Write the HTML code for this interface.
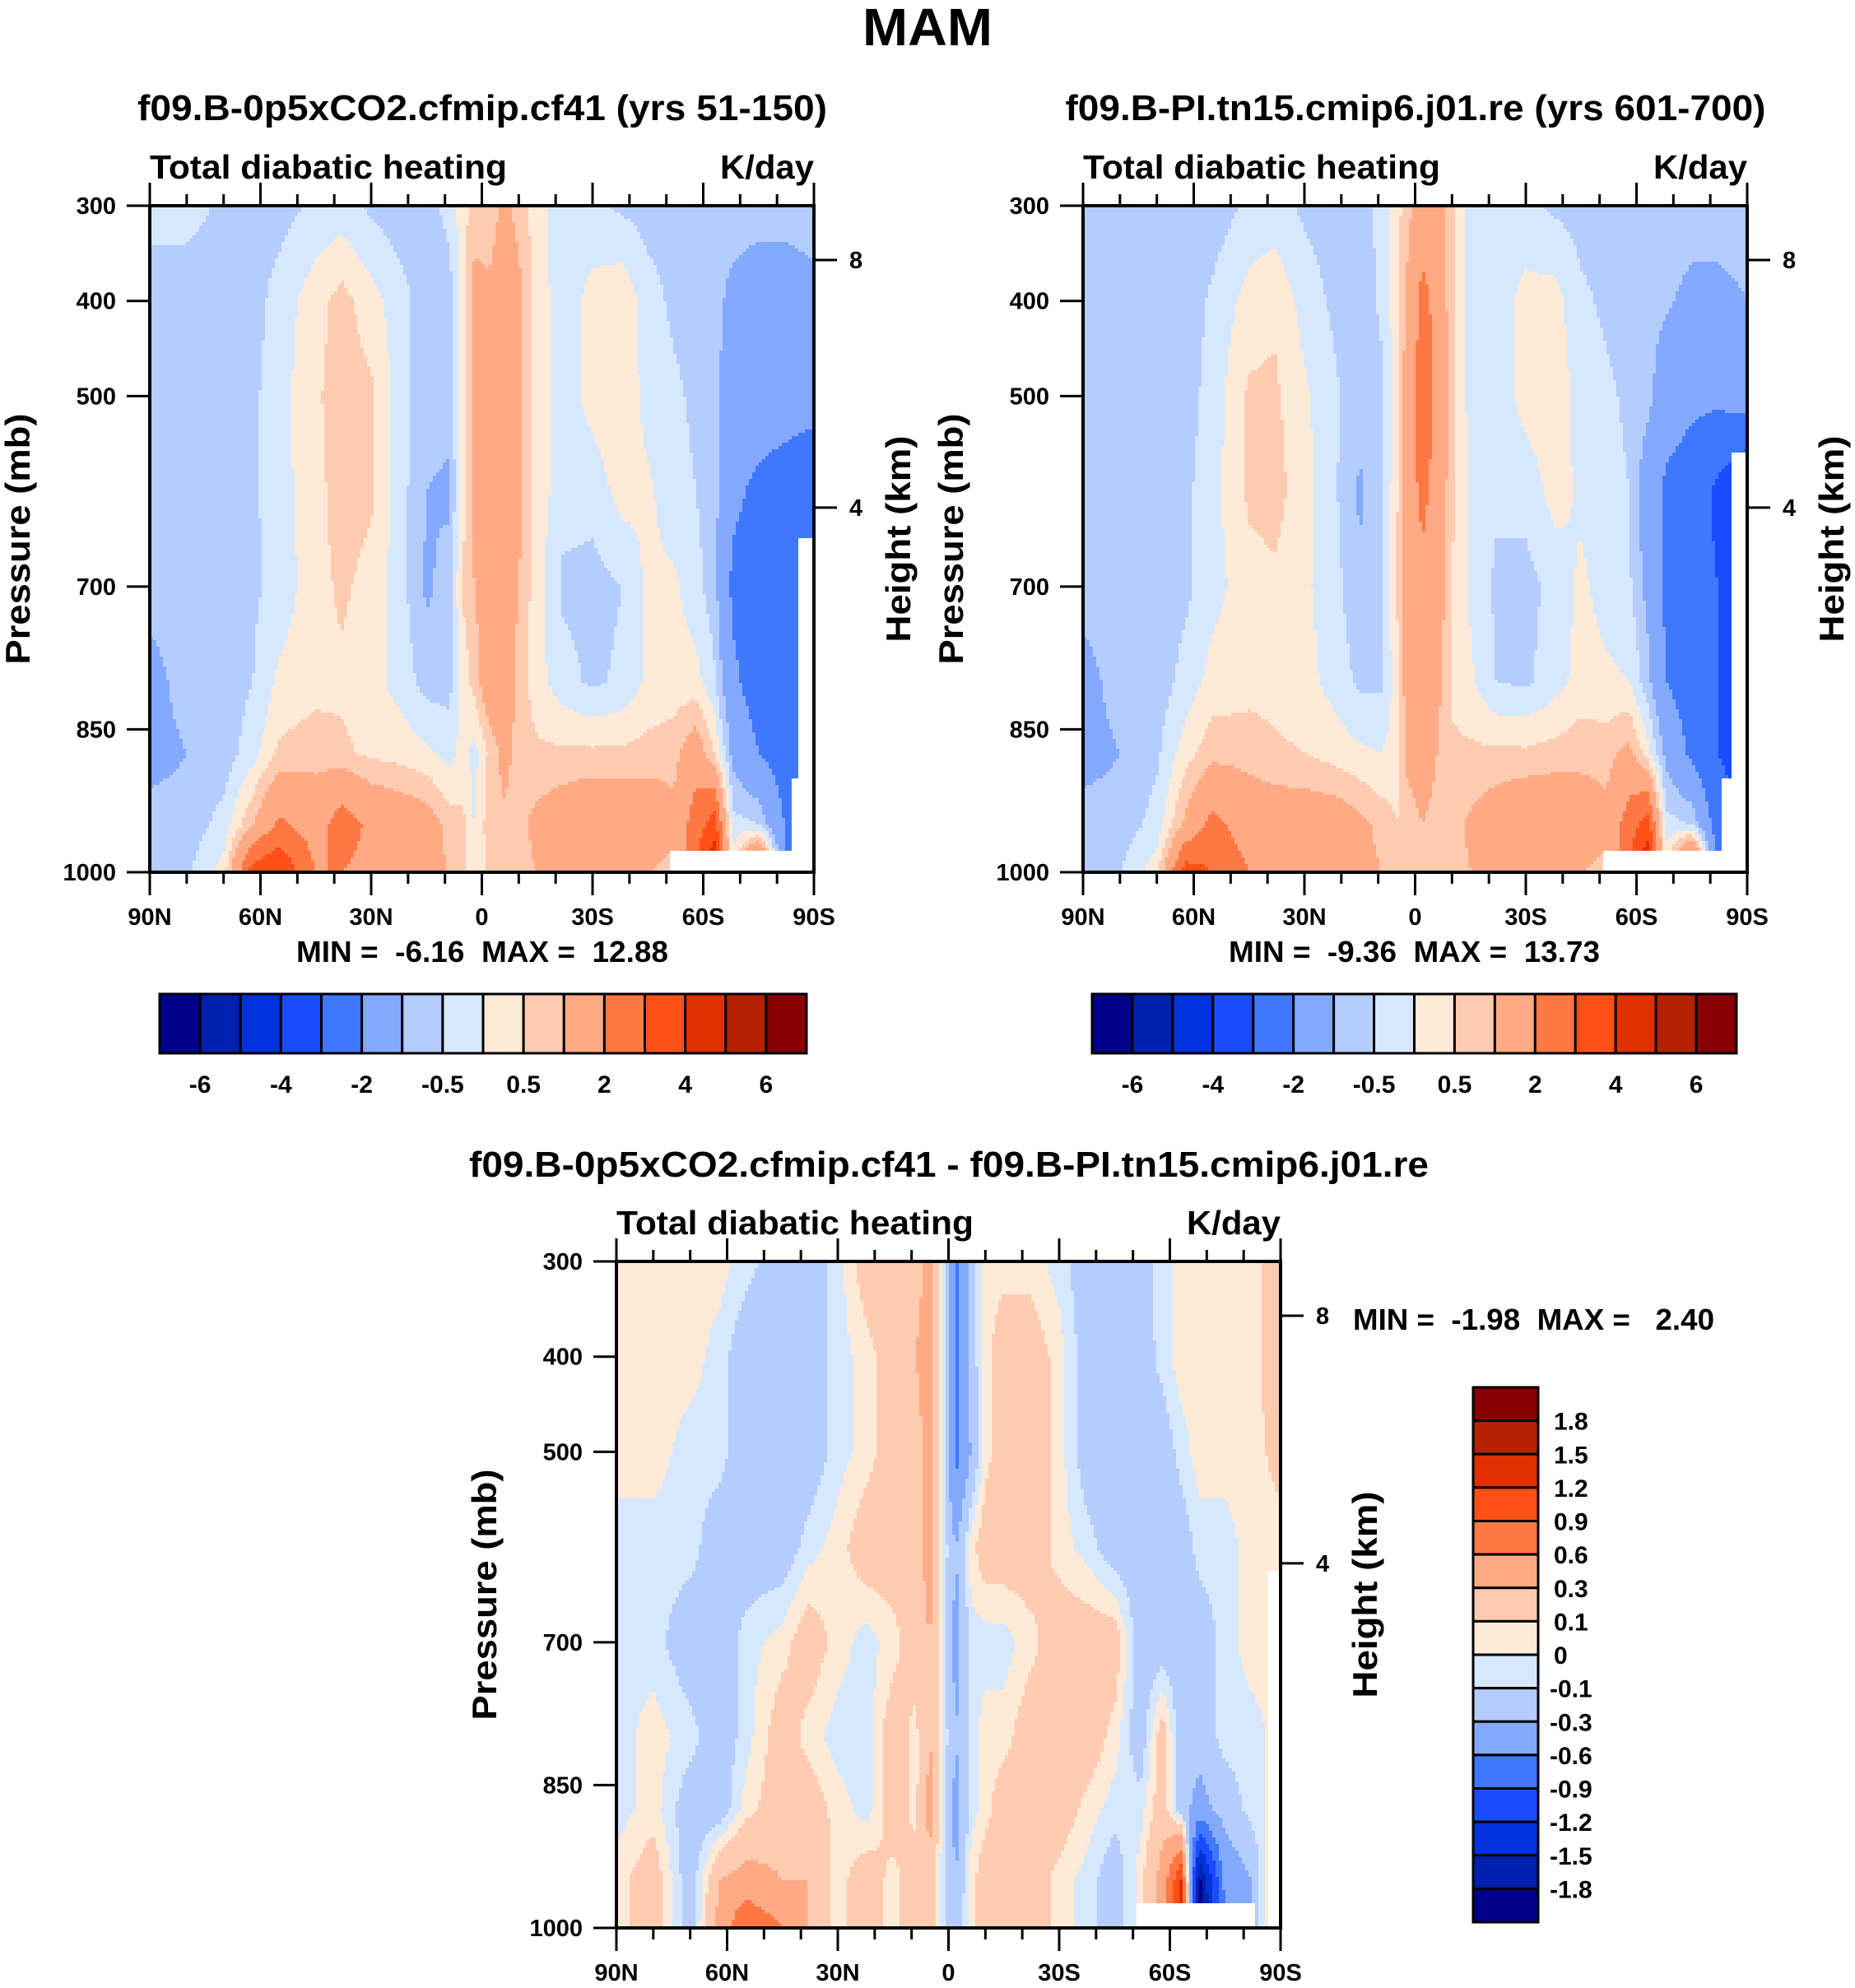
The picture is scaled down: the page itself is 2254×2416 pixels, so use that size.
<!DOCTYPE html>
<html><head><meta charset="utf-8"><title>MAM Total diabatic heating</title>
<style>
html,body{margin:0;padding:0;background:#fff;}
svg{display:block;font-family:"Liberation Sans",Arial,sans-serif;font-weight:bold;}
</style></head>
<body>
<svg id="fig" xmlns="http://www.w3.org/2000/svg" width="2254" height="2416" viewBox="0 0 2254 2416">
<rect width="2254" height="2416" fill="#fff"/>
<text x="1127" y="55" text-anchor="middle" font-size="64" textLength="158" lengthAdjust="spacingAndGlyphs">MAM</text>
<g id="layer"></g>
</svg>
<script>
// ---- data ----
const lats = [90,80,70,62,55,45,38,30,22,15,9,5,2,-2,-6,-10,-15,-22,-30,-38,-45,-52,-58,-63,-68,-75,-82,-90];
const levels = [300,400,500,600,700,800,875,950,1000];
const field1 = [
[-0.3,-0.3,-0.6,-0.7,-0.7,-0.4,-0.3,-0.6,-0.8,-0.8,-0.3,0.3,0.8,0.6,1.2,0.8,0.2,-0.3,-0.4,-0.6,-0.7,-0.7,-0.7,-0.7,-0.7,-0.7,-0.7,-0.7],
[-0.8,-0.8,-0.8,-0.7,-0.3,0.3,0.7,0.2,-0.3,-0.8,-0.8,0.2,1.2,1.2,1.5,1.2,0.3,-0.3,0.2,0.4,-0.3,-0.6,-0.7,-0.8,-1.2,-1.5,-1.5,-1.2],
[-0.8,-0.8,-0.8,-0.6,-0.2,0.4,0.8,0.6,-0.3,-0.8,-0.8,0.3,1.3,1.5,1.5,1.2,0.3,-0.3,0.2,0.4,-0.2,-0.4,-0.6,-0.8,-1.5,-1.5,-1.5,-1.5],
[-0.8,-0.8,-0.8,-0.6,-0.2,0.3,0.8,0.6,-0.3,-1,-1.1,0.3,1.2,1.5,1.6,1.2,0.3,-0.3,-0.3,0.2,0.1,-0.3,-0.5,-0.8,-1.8,-2.2,-2.5,-3],
[-0.8,-0.8,-0.8,-0.6,-0.3,0.3,0.6,0.3,-0.3,-1.1,-0.8,0.6,1.0,1.4,1.5,1.0,0.2,-0.6,-0.7,-0.5,0.1,0.1,-0.3,-0.8,-2.2,-2.5,-3,-3],
[-1.2,-0.8,-0.8,-0.5,0.1,0.3,0.4,0.2,-0.2,-0.7,-0.7,0.2,0.7,1.6,1.6,0.8,0.2,-0.3,-0.6,-0.4,0.1,0.2,0.2,-0.4,-1.8,-2.5,-2.8,-3],
[-1.2,-1,-0.8,-0.2,0.6,0.8,0.6,0.4,0.3,0.1,-0.2,0.2,-0.2,0.6,1.2,0.8,0.6,0.6,0.6,0.6,0.7,0.8,1.5,0.5,-1.2,-2,-2.5,-3],
[-0.8,-0.8,-0.3,1,2.2,1.5,2.5,1.8,1.6,1.4,0.8,0.6,0,0.8,0.9,0.8,1.2,1.5,1.8,1.8,1.6,1.2,2.5,3.5,-0.3,-0.5,-2,-3],
[-0.8,-0.6,0.2,3.5,4,2,2,1.7,1.5,1.3,1,0.6,0.2,0.6,0.8,0.8,1,1.5,1.8,1.5,1,0.8,3,5,0.3,4,-2,-3]];
const field2 = [
[-0.7,-0.8,-0.8,-0.8,-0.8,-0.4,-0.3,-0.6,-0.8,-0.8,-0.3,0.3,0.8,1.5,1.3,0.6,-0.2,-0.3,-0.4,-0.6,-0.7,-0.7,-0.7,-0.7,-0.7,-0.7,-0.7,-0.7],
[-0.8,-0.8,-0.8,-0.8,-0.4,0.2,0.4,-0.2,-0.6,-0.8,-0.4,0.3,1.2,2.3,1.7,0.6,-0.2,-0.3,0.2,0.2,-0.4,-0.6,-0.8,-0.8,-0.9,-1.2,-1.2,-1.0],
[-0.8,-0.8,-0.8,-0.7,-0.3,0.6,0.6,0.1,-0.4,-0.8,-0.6,0.3,1.5,2.5,1.8,0.7,-0.2,-0.3,0.2,0.3,-0.2,-0.4,-0.6,-0.8,-1.5,-1.8,-1.8,-1.5],
[-0.8,-0.8,-0.8,-0.6,-0.2,0.6,0.7,0.2,-0.4,-1.1,-0.6,0.4,1.6,2.2,1.7,0.6,-0.1,-0.4,-0.3,0.2,-0.1,-0.3,-0.5,-1.5,-2.2,-2.5,-3.2,-4.2],
[-0.8,-0.8,-0.8,-0.6,-0.2,0.3,0.4,0.1,-0.3,-0.9,-0.5,0.5,1.5,1.8,1.5,0.5,-0.1,-0.6,-0.7,-0.3,0.1,-0.2,-0.4,-1.2,-2.2,-2.5,-3,-3.5],
[-1.2,-0.8,-0.8,-0.3,0.2,0.3,0.3,0.2,-0.2,-0.6,-0.6,0.3,1.4,1.6,1.2,0.4,0.1,-0.5,-0.6,-0.2,0.2,0.1,0,-0.8,-2,-2.5,-3,-3.5],
[-1.2,-1,-0.6,0.3,0.8,0.8,0.6,0.5,0.3,0.1,0,0.3,1.2,1.4,1,0.6,0.6,0.6,0.6,0.7,0.8,0.8,1.2,0.2,-1.2,-2.2,-3,-3.5],
[-0.8,-0.8,-0.3,1.2,2.3,1.5,1.5,1.5,1.5,1.2,0.8,0.5,0.7,1.0,0.8,0.8,1.1,1.5,1.8,1.8,1.5,1.2,2.5,3.5,-0.3,-0.5,-2.5,-3],
[-0.8,-0.5,0.3,3.5,3,2,2,1.7,1.5,1.3,1,0.6,0.6,0.8,0.8,0.8,1,1.5,1.8,1.5,1,0.8,3,5,0.3,4.5,-2.5,-3]];
const field3 = [
[0.05,0.05,0.05,0.05,-0.05,-0.2,-0.2,-0.05,0.2,0.2,0.2,0.4,0.05,-0.7,-0.2,0.05,0.05,0.05,-0.05,-0.2,-0.2,-0.15,-0.05,0.05,0.05,0.05,0.05,0.2],
[0.05,0.05,0.05,-0.05,-0.2,-0.2,-0.2,-0.05,0.05,0.2,0.3,0.4,0.05,-0.7,-0.2,0.05,0.2,0.2,0.05,-0.2,-0.2,-0.2,-0.05,0.05,0.05,0.05,0.05,0.2],
[0.05,0.05,-0.05,-0.05,-0.2,-0.2,-0.2,-0.05,0.05,0.2,0.2,0.4,0.05,-0.7,-0.3,0.05,0.2,0.2,0.05,-0.2,-0.2,-0.2,-0.2,-0.05,0.05,0.05,0.05,0.15],
[-0.05,-0.05,-0.05,-0.2,-0.2,-0.2,-0.05,0.05,0.2,0.2,0.2,0.4,0.05,-0.3,0.05,0.2,0.2,0.2,0.05,-0.05,-0.2,-0.2,-0.2,-0.2,-0.05,-0.05,0.05,0.05],
[-0.05,-0.05,-0.2,-0.2,-0.05,0.05,0.2,0.05,-0.05,0.05,0.2,0.3,0.05,-0.4,-0.05,-0.05,-0.05,0.05,0.2,0.2,0.2,-0.2,-0.2,-0.2,-0.2,-0.05,0.05,0.05],
[-0.05,0.05,-0.05,-0.2,-0.05,0.2,0.05,-0.05,-0.05,0.2,0.05,0.3,0.05,-0.3,-0.05,0.05,0.05,0.2,0.2,0.2,0.05,-0.2,0.2,-0.2,-0.2,-0.05,-0.05,0.05],
[-0.05,0.05,-0.2,-0.2,0.05,0.2,0.2,0.05,-0.05,0.2,0.05,0.4,0.05,-0.4,-0.05,0.05,0.2,0.2,0.2,0.05,-0.05,-0.05,0.2,-0.2,-0.4,-0.2,-0.05,0.05],
[0.05,0.2,-0.2,0.3,0.4,0.3,0.3,0.05,0.2,0.05,0.2,0.2,-0.05,-0.3,0.05,0.2,0.2,0.2,0.05,-0.05,-0.2,0.05,0.4,1.2,-1.9,-0.5,-0.3,0.4],
[0.05,0.2,-0.2,0.4,0.9,0.6,0.3,0.05,0.2,0.05,0.2,0.2,-0.05,-0.2,0.05,0.2,0.2,0.2,0.05,-0.05,-0.2,0.05,0.4,1.5,-2,-0.6,-0.3,0.4]];
const levelsAbs = [-6,-5,-4,-3,-2,-1,-0.5,0,0.5,1,2,3,4,5,6];
const levelsDiff = [-1.8,-1.5,-1.2,-0.9,-0.6,-0.3,-0.1,0,0.1,0.3,0.6,0.9,1.2,1.5,1.8];
const labelsAbs = ["-6","-4","-2","-0.5","0.5","2","4","6"];
const labelsDiff = ["1.8","1.5","1.2","0.9","0.6","0.3","0.1","0","-0.1","-0.3","-0.6","-0.9","-1.2","-1.5","-1.8"];
const colors = ["#00008A","#0020B0","#0033DD","#1A4CFF","#4077FF","#83A9FF","#B4CCFF","#D6E8FF","#FFEAD8","#FFCBB0","#FFAA85","#FF7843","#FF5018","#E03000","#B52200","#880000"];
const pTicks = [300,400,500,700,850,1000];
const latTicks = [90,60,30,0,-30,-60,-90];
const latLabels = ["90N","60N","30N","0","30S","60S","90S"];
const hTicks = ["8","4"];
const hTickP = [357,617];
const minmax = ["MIN =  -6.16  MAX =  12.88","MIN =  -9.36  MAX =  13.73","MIN =  -1.98  MAX =   2.40"];

const NS="http://www.w3.org/2000/svg";
const layer=document.getElementById('layer');
function mk(tag,attrs,parent){const e=document.createElementNS(NS,tag);for(const k in attrs)e.setAttribute(k,attrs[k]);(parent||layer).appendChild(e);return e;}
function txt(s,attrs,parent){const e=mk('text',attrs,parent);e.textContent=s;return e;}

function interp(field,lat,p){
  let i=0;while(i<lats.length-2&&lat<lats[i+1])i++;
  let tx=(lats[i]-lat)/(lats[i]-lats[i+1]);tx=Math.max(0,Math.min(1,tx));
  let j=0;while(j<levels.length-2&&p>levels[j+1])j++;
  let ty=(p-levels[j])/(levels[j+1]-levels[j]);ty=Math.max(0,Math.min(1,ty));
  const a=field[j][i],b=field[j][i+1],c=field[j+1][i],d=field[j+1][i+1];
  return (a*(1-tx)+b*tx)*(1-ty)+(c*(1-tx)+d*tx)*ty;
}
function colorIdx(v,lv){let k=0;while(k<lv.length&&v>=lv[k])k++;return k;}

function panel(P){
  const g=mk('g',{});
  
  
  const X=lat=>P.x0+(90-lat)/180*(P.x1-P.x0);
  const Y=p=>P.y0+(p-300)/700*(P.y1-P.y0);
  const cg=mk('g',{},g);
  
  
  const step=4;
  for(let y=P.y0;y<P.y1;y+=step){
    const p=300+(y+step/2-P.y0)/(P.y1-P.y0)*700;
    let runStart=P.x0,runC=null;
    for(let x=P.x0;;x+=step){
      const end=x>=P.x1;
      let c=null;
      if(!end){
        const lat=90-(x+step/2-P.x0)/(P.x1-P.x0)*180;
        let miss=false;
        for(const m of P.mask){if(lat<=m[0]&&lat>=m[1]&&p>=m[2])miss=true;}
        c=miss?'#ffffff':colors[colorIdx(interp(P.field,lat,p),P.lv)];
      }
      if(c!==runC){
        if(runC!==null){
          const r=mk('rect',{x:runStart,y:y,width:Math.min(x,P.x1)-runStart+0.6,height:Math.min(step,P.y1-y)+0.6,fill:runC},cg);
          
          
        }
        runStart=x;runC=c;
      }
      if(end)break;
    }
  }
  const fr=mk('rect',{x:P.x0,y:P.y0,width:P.x1-P.x0,height:P.y1-P.y0,fill:'none',stroke:'#000','stroke-width':4},g);
  
  
  for(let lat=90;lat>=-90;lat-=10){
    const major=lat%30===0, L=major?28:14, x=X(lat);
    mk('line',{x1:x,x2:x,y1:P.y1,y2:P.y1+L,stroke:'#000','stroke-width':3},g);
    mk('line',{x1:x,x2:x,y1:P.y0,y2:P.y0-L,stroke:'#000','stroke-width':3},g);
  }
  latTicks.forEach((lat,i)=>{
    const t=txt(latLabels[i],{x:X(lat),y:P.y1+64,'text-anchor':'middle','font-size':29},g);
    
    
  });
  pTicks.forEach(p=>{
    mk('line',{x1:P.x0-28,x2:P.x0,y1:Y(p),y2:Y(p),stroke:'#000','stroke-width':3},g);
    const t=txt(String(p),{x:P.x0-41,y:Y(p)+10,'text-anchor':'end','font-size':29},g);
    
    
  });
  hTicks.forEach((h,i)=>{
    const y=Y(hTickP[i]);
    mk('line',{x1:P.x1,x2:P.x1+28,y1:y,y2:y,stroke:'#000','stroke-width':3},g);
    const t=txt(h,{x:P.x1+43,y:y+10,'font-size':29},g);
    
    
  });
  const cy=(P.y0+P.y1)/2;
  let t=txt('Pressure (mb)',{x:0,y:0,'text-anchor':'middle','font-size':42,textLength:305,lengthAdjust:'spacingAndGlyphs',transform:`translate(${P.x0-146},${cy}) rotate(-90)`},g);
  
  
  t=txt('Height (km)',{x:0,y:0,'text-anchor':'middle','font-size':42,textLength:251,lengthAdjust:'spacingAndGlyphs',transform:`translate(${P.x1+117},${cy}) rotate(-90)`},g);
  
  
  t=txt('Total diabatic heating',{x:P.x0,y:P.y0-33,'font-size':41,textLength:434,lengthAdjust:'spacingAndGlyphs'},g);
  
  
  t=txt('K/day',{x:P.x1,y:P.y0-33,'text-anchor':'end','font-size':41,textLength:114,lengthAdjust:'spacingAndGlyphs'},g);
  
  
  t=txt(P.title,{x:P.tx,y:P.ty,'text-anchor':'middle','font-size':44,textLength:P.tw,lengthAdjust:'spacingAndGlyphs'},g);
  
  
  t=txt(P.mm,{x:P.mx,y:P.my,'font-size':36,textLength:P.mw,lengthAdjust:'spacingAndGlyphs',style:'white-space:pre'},g);
  
  
}

panel({name:'panel-0p5xco2',x0:182,x1:989,y0:250,y1:1060,field:field1,lv:levelsAbs,
  mask:[[-51,-84,976],[-84,-86,900],[-86,-91,650]],
  title:'f09.B-0p5xCO2.cfmip.cf41 (yrs 51-150)',tx:586,ty:146,tw:838,mm:minmax[0],mx:360,my:1169,mw:452});
panel({name:'panel-pi',x0:1316,x1:2123,y0:250,y1:1060,field:field2,lv:levelsAbs,
  mask:[[-51,-83,976],[-83,-86,900],[-86,-91,560]],
  title:'f09.B-PI.tn15.cmip6.j01.re (yrs 601-700)',tx:1720,ty:146,tw:851,mm:minmax[1],mx:1493,my:1169,mw:451});
panel({name:'panel-difference',x0:749,x1:1556,y0:1533,y1:2343,field:field3,lv:levelsDiff,
  mask:[[-51,-83,973],[-86.5,-91,626]],
  title:'f09.B-0p5xCO2.cfmip.cf41 - f09.B-PI.tn15.cmip6.j01.re',tx:1153,ty:1430,tw:1166,mm:minmax[2],mx:1644,my:1616,mw:439});

function hbar(name,x0,x1,y0,y1){
  const g=mk('g',{});
  
  
  const w=(x1-x0)/colors.length;
  colors.forEach((c,i)=>{
    const r=mk('rect',{x:x0+i*w,y:y0,width:w,height:y1-y0,fill:c,stroke:'#000','stroke-width':3},g);
    
    
  });
  labelsAbs.forEach((s,k)=>{
    const t=txt(s,{x:x0+(2*k+1)*w,y:y1+48,'text-anchor':'middle','font-size':30},g);
    
    
  });
}
hbar('colorbar-0p5xco2',194,980,1208,1280);
hbar('colorbar-pi',1327,2110,1208,1280);
(function(){
  const x0=1790,x1=1869,y0=1686,y1=2336;
  const g=mk('g',{});
  
  
  const h=(y1-y0)/colors.length;
  colors.slice().reverse().forEach((c,i)=>{
    const r=mk('rect',{x:x0,y:y0+i*h,width:x1-x0,height:h,fill:c,stroke:'#000','stroke-width':3},g);
    
    
  });
  labelsDiff.forEach((s,k)=>{
    const t=txt(s,{x:s.startsWith('-')?1883:1888,y:y0+(k+1)*h+11,'font-size':30},g);
    
    
  });
})();
</script>
</body></html>
